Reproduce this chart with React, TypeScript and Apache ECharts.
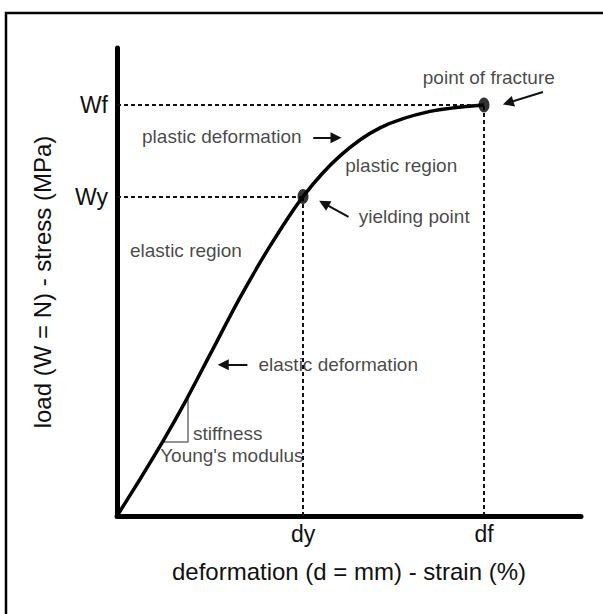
import React, { useEffect, useRef } from "react";
import * as echarts from "echarts";

// Curve (deformation, load) in arbitrary units 0..100
const strain = [0, 4.96, 9.91, 14.87, 20.04, 26.51, 32.97, 40.09, 48.06, 56.68, 67.46, 79.09];
const stress = [0, 7.86, 15.98, 24.72, 34.47, 46.65, 57.67, 68.25, 76.94, 82.93, 86.45, 87.84];

// key points
const keyXLabels = ["dy", "df"];
const keyXValues = [40.09, 79.09];
const keyYLabels = ["Wy", "Wf"];
const keyYValues = [68.25, 87.84];

// stiffness triangle
const triX = [9.9, 15.3, 15.3];
const triY = [15.8, 15.8, 25.2];

// annotation texts (left x, centre y)
const noteTexts = [
  "point of fracture",
  "plastic deformation",
  "plastic region",
  "yielding point",
  "elastic region",
  "elastic deformation",
  "stiffness",
  "Young's modulus",
];
const noteX = [65.9, 5.4, 49.2, 52.1, 2.8, 30.5, 16.4, 9.3];
const noteY = [93.6, 81.0, 75.0, 63.9, 56.8, 32.3, 17.7, 13.0];

// arrows: from -> to (head at "to")
const arrowFromX = [42.3, 49.9, 28.1, 91.8];
const arrowFromY = [80.8, 63.9, 32.3, 90.6];
const arrowToX = [47.2, 44.6, 22.9, 84.3];
const arrowToY = [80.8, 66.8, 32.3, 88.3];

const FONT = "Liberation Sans, Arial, sans-serif";
const INK = "#111";

export default function App() {
  const ref = useRef<HTMLDivElement>(null);
  useEffect(() => {
    if (!ref.current) return;
    const chart = echarts.init(ref.current, undefined, { renderer: "svg" });
    const curve = strain.map((x, i) => [x, stress[i]]);
    const dotted = { type: [4, 3], width: 2, color: INK };
    const guideLines: any[] = [];
    keyYValues.forEach((v, i) => {
      guideLines.push([
        {
          coord: [0, v],
          label: {
            show: true,
            position: "start",
            formatter: keyYLabels[i],
            distance: 9,
            fontSize: 23,
            color: INK,
            fontFamily: FONT,
          },
          lineStyle: dotted,
        },
        { coord: [keyXValues[i], v] },
      ]);
    });
    keyXValues.forEach((v, i) => {
      guideLines.push([
        {
          coord: [v, 0],
          label: {
            show: true,
            position: "start",
            formatter: keyXLabels[i],
            distance: 6,
            fontSize: 23,
            color: INK,
            fontFamily: FONT,
          },
          lineStyle: dotted,
        },
        { coord: [v, keyYValues[i]] },
      ]);
    });
    const arrows = arrowFromX.map((x, i) => [
      { coord: [x, arrowFromY[i]] },
      { coord: [arrowToX[i], arrowToY[i]] },
    ]);

    chart.setOption({
      animation: false,
      backgroundColor: "#fff",
      textStyle: { fontFamily: FONT },
      graphic: [
        {
          type: "rect",
          shape: { x: 6, y: 13, width: 800, height: 800 },
          style: { fill: "none", stroke: "#000", lineWidth: 2.5 },
          silent: true,
        },
      ],
      grid: { left: 117, right: 22, top: 48, bottom: 98 },
      xAxis: {
        type: "value",
        min: 0,
        max: 100,
        name: "deformation (d = mm) - strain (%)",
        nameLocation: "middle",
        nameGap: 43,
        nameTextStyle: { fontSize: 24, color: INK, fontFamily: FONT },
        axisLine: { lineStyle: { color: "#000", width: 5 } },
        axisTick: { show: false },
        axisLabel: { show: false },
        splitLine: { show: false },
      },
      yAxis: {
        type: "value",
        min: 0,
        max: 100,
        name: "load (W = N) - stress (MPa)",
        nameLocation: "middle",
        nameGap: 63,
        nameTextStyle: { fontSize: 24, color: INK, fontFamily: FONT },
        axisLine: { show: true, lineStyle: { color: "#000", width: 5 } },
        axisTick: { show: false },
        axisLabel: { show: false },
        splitLine: { show: false },
      },
      series: [
        {
          type: "line",
          data: triX.map((x, i) => [x, triY[i]]),
          showSymbol: false,
          lineStyle: { color: "#6d6d6d", width: 1.5 },
          silent: true,
          z: 2,
        },
        {
          type: "line",
          data: curve,
          smooth: 0.3,
          showSymbol: false,
          lineStyle: { color: "#000", width: 3.5 },
          silent: true,
          z: 3,
          markLine: {
            silent: true,
            symbol: "none",
            animation: false,
            lineStyle: dotted,
            data: guideLines,
          },
        },
        {
          type: "line",
          data: [],
          silent: true,
          markLine: {
            silent: true,
            symbol: ["none", "triangle"],
            symbolSize: 11,
            animation: false,
            label: { show: false },
            lineStyle: { type: "solid", width: 2, color: INK },
            data: arrows,
          },
        },
        {
          type: "scatter",
          data: [
            [keyXValues[0], keyYValues[0]],
            [keyXValues[1], keyYValues[1]],
          ],
          symbol: "circle",
          symbolSize: [11, 15],
          itemStyle: { color: "#000" },
          silent: true,
          z: 5,
        },
        {
          type: "scatter",
          data: noteTexts.map((t, i) => ({ name: t, value: [noteX[i], noteY[i]] })),
          symbolSize: 0,
          silent: true,
          label: {
            show: true,
            position: "right",
            distance: 0,
            formatter: "{b}",
            fontSize: 19,
            color: "#161616",
            fontFamily: FONT,
          },
          z: 6,
        },
      ],
    });
    return () => chart.dispose();
  }, []);
  return (
    <div
      ref={ref}
      style={{ position: "fixed", left: 0, top: 0, width: 603, height: 614, background: "#fff" }}
    />
  );
}
